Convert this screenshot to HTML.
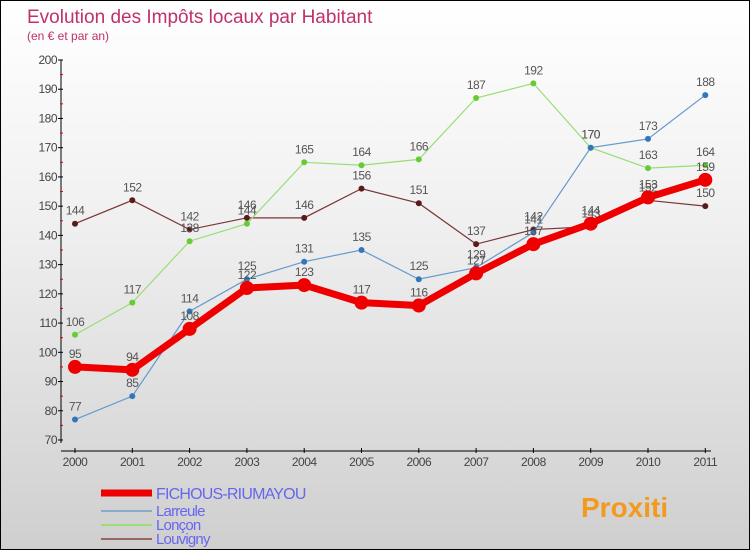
<!DOCTYPE html>
<html><head><meta charset="utf-8"><style>
body{margin:0}
#c{width:748px;height:548px;border:1px solid #000;background:linear-gradient(#fff,#f0f0f0 40%,#cfcfcf);position:relative;font-family:"Liberation Sans",sans-serif;overflow:hidden}
</style></head><body>
<div id="c">
<svg id="s" width="748" height="548"></svg>
</div>
<script>
const years=["2000","2001","2002","2003","2004","2005","2006","2007","2008","2009","2010","2011"];
const yTicks=[70,80,90,100,110,120,130,140,150,160,170,180,190,200];
const fichous=[95,94,108,122,123,117,116,127,137,144,153,159];
const larreule=[77,85,114,125,131,135,125,129,141,170,173,188];
const loncon=[106,117,138,144,165,164,166,187,192,170,163,164];
const louvigny=[144,152,142,146,146,156,151,137,142,143,152,150];
const NS="http://www.w3.org/2000/svg";
const s=document.getElementById('s');
const X=i=>74+i*57.3;
const Y=v=>439-(v-70)*(380/130);
function el(t,a,txt){const e=document.createElementNS(NS,t);for(const k in a)e.setAttribute(k,a[k]);if(txt!==undefined)e.textContent=txt;s.appendChild(e);return e;}
const t1=el('text',{x:26,y:22,'font-size':19,fill:'#c0306a'},'Evolution des Impôts locaux par Habitant');


const t2=el('text',{x:26,y:39,'font-size':12,fill:'#c0306a'},'(en € et par an)');


const ya=el('line',{x1:60,y1:Y(200),x2:60,y2:Y(70)+3,stroke:'#000'});


yTicks.forEach(v=>{
 el('line',{x1:57,x2:62,y1:Y(v),y2:Y(v),stroke:'#000'});
 if(v<200)el('line',{x1:59,x2:62,y1:Y(v+5),y2:Y(v+5),stroke:'#e00000'});
 const t=el('text',{x:56,y:Y(v)+4,'font-size':12,fill:'#444','text-anchor':'end','letter-spacing':'-0.5'},v);
 
 
});
const xa=el('line',{x1:60,y1:450,x2:710,y2:450,stroke:'#000'});


years.forEach((y,i)=>{
 el('line',{x1:X(i),x2:X(i),y1:447,y2:452,stroke:'#000'});
 const t=el('text',{x:X(i),y:465,'font-size':12,fill:'#444','text-anchor':'middle','letter-spacing':'-0.5'},y);
 
 
});
function series(d,color,dot,w,r,name){
 const p=el('polyline',{points:d.map((v,i)=>X(i)+','+Y(v)).join(' '),fill:'none',stroke:color,'stroke-width':w});
 
 
 d.forEach((v,i)=>{
  const c=el('circle',{cx:X(i),cy:Y(v),r:r,fill:dot});
  
  
  const t=el('text',{x:X(i),y:Y(v)-9,'font-size':12,fill:'#555','text-anchor':'middle','letter-spacing':'-0.5'},v);
  
  
 });
}
series(louvigny,'#7a3535','#5a1a1a',1.2,3,'louvigny');
series(loncon,'#99dd77','#66cc33',1.2,3,'loncon');
series(larreule,'#6699cc','#3377bb',1.2,3,'larreule');
series(fichous,'#ee0000','#ee0000',7,7,'fichous-riumayou');
const leg=[['FICHOUS-RIUMAYOU','#ee0000',7],['Larreule','#88aacc',2],['Lonçon','#99dd77',2],['Louvigny','#996666',2]];
const ly=[492,510,524,538];
leg.forEach((l,i)=>{
 const ln=el('line',{x1:100,x2:151,y1:ly[i],y2:ly[i],stroke:l[1],'stroke-width':l[2]});
 
 
 const t=el('text',{x:155,y:ly[i]+(i==0?6:5),'font-size':i==0?16:15,fill:'#6666ee','letter-spacing':'-0.8'},l[0]);
 
 
});
const lg=el('text',{x:580,y:516,'font-size':28,'font-weight':'bold',fill:'#f39a1e'},'Proxiti');


</script>
</body></html>
